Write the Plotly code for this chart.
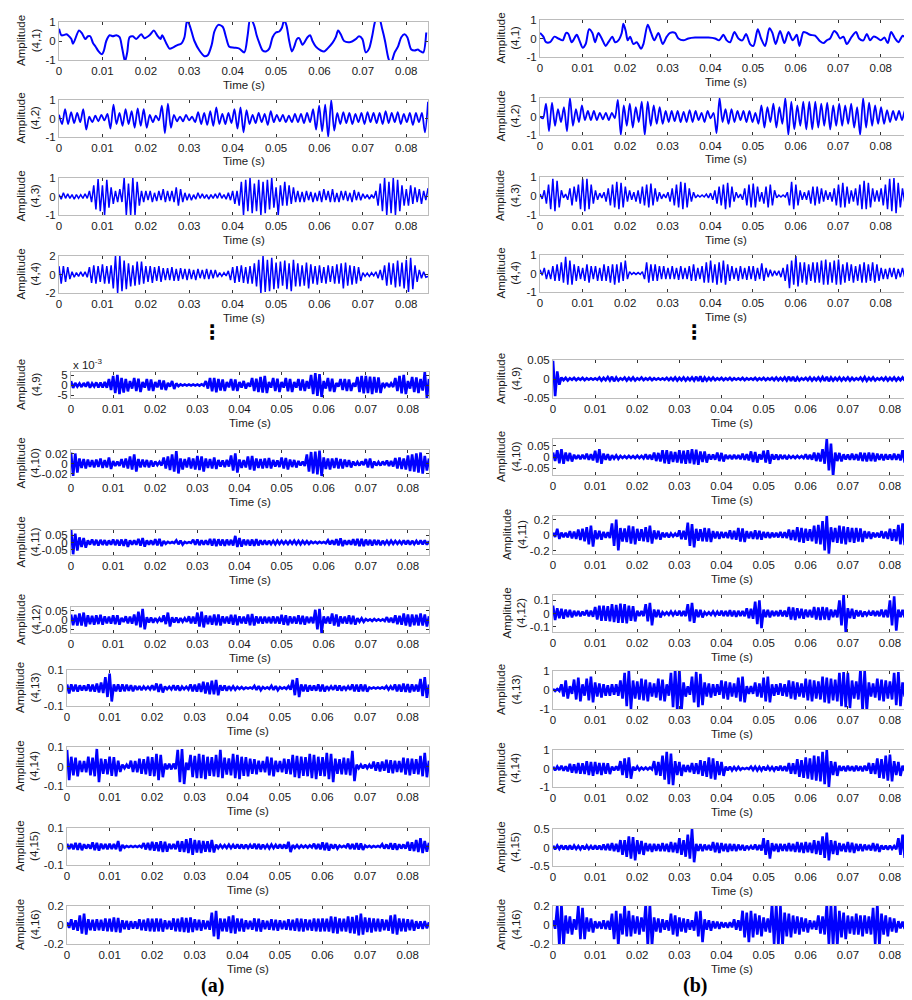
import numpy as np
import plotly.graph_objects as go

########################
### Signal data      ###
########################

# signal lengths (s)
LEN_A = 0.085        # column (a)
LEN_B_TOP = 0.0871   # column (b), nodes (4,1)-(4,4)
LEN_B = 0.085        # column (b), nodes (4,9)-(4,16)

# (a) node (4,1): times in ms and amplitudes
T_A1 = [0, 0.54, 0.92, 1.69, 2.07, 2.84, 3.22, 4.60, 5.29, 6.05,
        6.67, 7.20, 7.82, 8.43, 9.12, 9.89, 10.34, 10.88, 11.65, 12.41,
        13.18, 13.95, 14.48, 15.10, 15.25, 15.71, 16.25, 17.01, 17.78, 18.93,
        19.69, 20.84, 21.84, 22.61, 23.37, 23.75, 24.67, 25.44, 26.21, 27.36,
        28.12, 28.89, 29.43, 29.66, 30.27, 31.19, 32.34, 33.49, 34.25, 35.17,
        35.79, 36.70, 37.70, 38.47, 39.23, 40.38, 41.53, 42.68, 43.45, 44.06,
        44.98, 45.52, 46.13, 46.90, 47.66, 48.43, 49.20, 49.96, 50.73, 51.34,
        51.88, 52.41, 53.03, 53.64, 54.18, 54.79, 55.33, 56.09, 57.24, 57.85,
        58.39, 59.16, 60.31, 61.07, 61.84, 62.99, 63.75, 64.29, 64.90, 65.67,
        67.20, 68.35, 69.12, 69.89, 70.65, 71.42, 72.18, 72.95, 73.72, 74.48,
        75.10, 75.86, 76.40, 77.32, 78.08, 78.85, 79.62, 80.23, 81.15, 81.92,
        82.68, 83.30, 83.91, 84.60]
AMP_A1 = [0.64, 0.3, 0.3, 0.35, 0.3, 0.1, -0.15, 0.55, 0.4, 0.1,
          0.25, 0.25, -0.1, -0.3, -0.55, -0.7, -0.5, 0.0, 0.3, 0.25,
          0.3, 0.2, -0.3, -1.0, -1.05, -0.6, 0.2, 0.25, 0.1, 0.35,
          0.15, 0.3, 0.55, 0.3, 0.1, 0.3, -0.1, -0.4, -0.35, -0.2,
          -0.15, 0.2, 1.0, 1.05, 0.7, 0.0, -0.5, -0.8, -0.75, -0.2,
          0.5, 0.85, 0.75, 0.2, -0.3, -0.35, -0.4, -0.6, 0.3, 1.2,
          0.8, 0.3, -0.1, -0.5, -0.55, -0.4, 0.2, 0.45, 0.5, 0.7,
          1.1, 0.8, 0.0, -0.55, -0.3, 0.1, 0.15, -0.2, 0.2, 0.3,
          0.0, -0.3, -0.5, -0.55, -0.4, -0.1, 0.2, 0.55, 0.35, 0.0,
          -0.05, 0.1, 0.25, 0.1, -0.6, -0.4, 0.3, 1.1, 1.2, 0.6,
          0.0, -0.9, -1.2, -0.6, -0.3, 0.2, 0.35, 0.2, -0.45, -0.5,
          -0.45, -0.55, -0.6, 0.45]

AMP_A2 = [0.2, -0.3, 0.5, -0.3, 0.35, -0.25, 0.3, -0.2, 0.5, -0.6,
          0.1, -0.2, 0.15, -0.15, 0.2, -0.1, 0.25, -0.55, 0.75, -0.3,
          0.3, -0.4, 0.5, -0.3, 0.4, -0.5, 0.55, -0.4, 0.5, -0.5,
          0.2, -0.2, 0.15, -0.1, 0.7, -0.8, 0.8, -0.5, 0.2, -0.15,
          0.1, -0.15, 0.2, -0.1, 0.1, -0.2, 0.35, -0.3, 0.3, -0.35,
          0.4, -0.4, 0.6, -0.3, 0.25, -0.3, 0.3, -0.25, 0.5, -0.55,
          0.6, -0.75, 0.45, -0.3, 0.2, -0.25, 0.3, -0.2, 0.25, -0.35,
          0.4, -0.2, 0.2, -0.15, 0.2, -0.2, 0.15, -0.2, 0.25, -0.2,
          0.25, -0.25, 0.3, -0.2, 0.5, -0.6, 0.7, -0.7, 0.75, -1.0,
          1.0, -0.65, 0.3, -0.3, 0.35, -0.25, 0.3, -0.3, 0.25, -0.2,
          0.3, -0.3, 0.35, -0.2, 0.3, -0.25, 0.3, -0.3, 0.4, -0.25,
          0.3, -0.2, 0.35, -0.3, 0.25, -0.2, 0.3, -0.35, 0.3, -0.2,
          0.3, -0.75, 0.9]

AMP_A3 = [0.1, -0.15, 0.2, -0.1, 0.15, -0.1, 0.1, -0.15, 0.1, -0.1,
          0.1, -0.1, 0.15, -0.1, 0.3, -0.3, 0.6, -0.7, 0.95, -0.8,
          0.6, -1.0, 0.9, -0.6, 0.5, -0.4, 0.3, -0.3, 0.4, -0.3,
          1.0, -1.0, 0.7, -1.0, 1.0, -1.0, 0.8, -0.5, 0.3, -0.3,
          0.3, -0.2, 0.3, -0.3, 0.2, -0.25, 0.3, -0.2, 0.4, -0.3,
          0.3, -0.25, 0.3, -0.3, 0.5, -0.5, 0.4, -0.3, 0.2, -0.2,
          0.15, -0.2, 0.1, -0.15, 0.2, -0.1, 0.15, -0.1, 0.1, -0.15,
          0.1, -0.1, 0.15, -0.1, 0.2, -0.1, 0.1, -0.15, 0.2, -0.2,
          0.3, -0.4, 0.3, -0.5, 0.8, -1.0, 0.9, -0.8, 1.0, -0.9,
          0.7, -0.8, 0.9, -1.0, 0.8, -0.9, 0.9, -0.7, 1.0, -0.6,
          0.5, -1.0, 0.6, -0.5, 0.8, -0.5, 0.6, -0.4, 0.5, -0.3,
          0.3, -0.3, 0.25, -0.3, 0.3, -0.2, 0.25, -0.3, 0.2, -0.25,
          0.3, -0.3, 0.4, -0.2, 0.3, -0.3, 0.4, -0.3, 0.2, -0.3,
          0.3, -0.2, 0.3, -0.25, 0.2, -0.3, 0.35, -0.2, 0.25, -0.2,
          0.15, -0.1, 0.1, -0.15, 0.1, -0.1, 0.3, -0.5, 0.7, -0.8,
          1.0, -1.0, 0.8, -0.9, 1.0, -1.0, 0.9, -0.8, 0.6, -0.5,
          0.4, -0.5, 0.6, -0.4, 0.5, -0.3, 0.4, -0.4, 0.3, -0.2, 0.45]

AMP_A4 = [0.9, -1.0, 0.9, -0.8, 0.8, -0.5, 0.3, -0.3, 0.2, -0.2,
          0.3, -0.2, 0.3, -0.3, 0.8, -0.9, 1.0, -1.0, 0.9, -0.8,
          1.1, -1.0, 0.9, -1.0, 1.0, -1.5, 2.0, -2.0, 2.0, -1.8,
          1.5, -1.6, 1.2, -1.3, 1.0, -1.2, 1.4, -1.1, 1.4, -1.0,
          0.9, -0.8, 0.9, -0.9, 0.8, -0.7, 0.9, -0.8, 0.7, -0.6,
          0.7, -0.6, 0.8, -0.7, 0.6, -0.7, 0.7, -0.5, 0.6, -0.6,
          0.6, -0.5, 0.5, -0.6, 0.6, -0.4, 0.5, -0.5, 0.6, -0.5,
          0.5, -0.4, 0.5, -0.3, 0.2, -0.2, 0.2, -0.15, 0.4, -0.6,
          0.8, -0.9, 0.9, -0.8, 1.0, -0.9, 0.8, -1.0, 0.9, -1.0,
          1.2, -1.3, 1.6, -2.0, 2.0, -1.9, 1.6, -1.8, 1.8, -1.6,
          1.3, -1.5, 1.4, -1.2, 1.5, -1.6, 1.2, -1.8, 1.6, -1.3,
          1.2, -1.3, 1.0, -1.2, 1.3, -1.5, 1.1, -1.0, 0.9, -1.1,
          1.0, -0.9, 0.8, -1.0, 1.0, -0.8, 0.9, -1.0, 1.1, -1.0,
          1.2, -1.5, 1.3, -1.2, 1.0, -1.1, 0.9, -1.0, 0.8, -0.7,
          0.2, -0.2, 0.15, -0.2, 0.2, -0.15, 0.3, -0.4, 0.5, -0.6,
          1.0, -1.2, 1.3, -1.1, 1.2, -1.4, 1.5, -1.3, 1.3, -1.5,
          1.6, -1.9, 1.8, -1.6, 1.0, -0.8, 0.5, -0.4, 0.3, -0.3, -0.2]

# (a) node (4,9) in units of 1e-3
AMP_A9 = [2.0, -1.5, 1.0, -0.8, 0.8, -1.0, 1.0, -0.8, 1.5, -1.4, 0.8, -0.7, 1.3, -1.2, 1.2, -1.3, 1.5, -1.4, 3.0, -2.5,
          4.5, -4.0, 5.0, -4.5, 3.5, -3.8, 3.0, -3.2, 2.0, -1.8, 3.5, -3.0, 3.2, -3.5, 1.5, -1.3, 3.0, -2.8, 2.8, -3.0,
          1.5, -1.2, 2.5, -2.2, 2.2, -2.5, 1.0, -0.8, 2.0, -2.0, 0.8, -0.6, 0.3, -0.3, 0.3, -0.3, 0.3, -0.3, 0.3, -0.3,
          0.3, -0.3, 0.4, -0.3, 2.0, -1.8, 3.5, -3.2, 3.5, -3.6, 3.0, -2.8, 2.8, -3.0, 1.5, -1.2, 3.0, -2.8, 2.8, -3.0,
          1.5, -1.3, 2.0, -1.8, 1.0, -0.8, 3.5, -3.0, 3.2, -3.5, 4.0, -3.8, 4.5, -4.0, 1.5, -1.3, 3.5, -3.0, 3.2, -3.5,
          1.5, -1.3, 3.5, -3.2, 3.0, -3.5, 1.5, -1.3, 3.0, -2.8, 2.8, -3.0, 2.0, -1.8, 5.0, -4.5, 6.0, -5.5, 5.5, -6.0,
          2.0, -1.8, 3.5, -3.2, 3.2, -3.5, 1.0, -0.8, 3.0, -2.5, 3.0, -3.0, 2.8, -3.0, 1.0, -0.8, 4.0, -3.5, 4.5, -4.2,
          4.5, -4.0, 4.2, -4.5, 4.0, -3.8, 3.8, -4.0, 1.0, -0.8, 1.0, -1.0, 0.8, -1.0, 3.5, -3.0, 4.5, -4.2, 5.0, -4.5,
          2.0, -1.8, 4.0, -3.5, 3.8, -4.0, 3.0, -2.8, 6.5, -6.5, 3.0]

AMP_A10 = [0.022, -0.025, 0.02, -0.018, 0.01, -0.009, 0.009, -0.01, 0.008, -0.007, 0.007, -0.008, 0.008, -0.007, 0.01, -0.009, 0.007, -0.008, 0.012, -0.011,
           0.005, -0.005, 0.004, -0.005, 0.009, -0.008, 0.01, -0.01, 0.014, -0.012, 0.018, -0.016, 0.009, -0.008, 0.008, -0.007, 0.007, -0.008, 0.006, -0.006,
           0.004, -0.003, 0.003, -0.004, 0.012, -0.01, 0.014, -0.013, 0.018, -0.016, 0.025, -0.02, 0.01, -0.012, 0.009, -0.008, 0.012, -0.01, 0.01, -0.012,
           0.015, -0.013, 0.014, -0.016, 0.01, -0.009, 0.009, -0.01, 0.012, -0.011, 0.007, -0.006, 0.006, -0.007, 0.007, -0.006, 0.016, -0.014, 0.02, -0.018,
           0.008, -0.009, 0.007, -0.008, 0.014, -0.012, 0.015, -0.014, 0.01, -0.009, 0.009, -0.01, 0.01, -0.009, 0.011, -0.01, 0.007, -0.006, 0.006, -0.007,
           0.012, -0.01, 0.011, -0.012, 0.008, -0.007, 0.007, -0.008, 0.005, -0.004, 0.004, -0.005, 0.018, -0.016, 0.023, -0.02, 0.024, -0.022, 0.026, -0.025,
           0.012, -0.011, 0.01, -0.012, 0.01, -0.009, 0.011, -0.01, 0.009, -0.01, 0.008, -0.007, 0.007, -0.008, 0.004, -0.004, 0.003, -0.004, 0.004, -0.003,
           0.009, -0.008, 0.01, -0.009, 0.004, -0.004, 0.003, -0.004, 0.004, -0.003, 0.006, -0.005, 0.005, -0.006, 0.011, -0.01, 0.012, -0.011, 0.01, -0.012,
           0.016, -0.015, 0.018, -0.016, 0.02, -0.018, 0.022, -0.02, 0.015, -0.014, 0.01]

AMP_A11 = [0.09, -0.08, 0.06, -0.055, 0.035, -0.03, 0.03, -0.035, 0.015, -0.014, 0.02, -0.018, 0.018, -0.02, 0.018, -0.016, 0.016, -0.018, 0.014, -0.015,
           0.02, -0.018, 0.018, -0.02, 0.02, -0.022, 0.022, -0.03, 0.015, -0.014, 0.014, -0.015, 0.025, -0.022, 0.03, -0.028, 0.015, -0.014, 0.014, -0.016,
           0.022, -0.02, 0.025, -0.024, 0.01, -0.009, 0.004, -0.004, 0.003, -0.004, 0.015, -0.012, 0.012, -0.014, 0.004, -0.004, 0.003, -0.003, 0.018, -0.016,
           0.02, -0.018, 0.015, -0.014, 0.014, -0.015, 0.024, -0.022, 0.025, -0.024, 0.022, -0.02, 0.02, -0.022, 0.02, -0.018, 0.018, -0.02, 0.045, -0.03,
           0.03, -0.028, 0.02, -0.018, 0.018, -0.02, 0.02, -0.022, 0.022, -0.02, 0.015, -0.014, 0.014, -0.015, 0.012, -0.011, 0.011, -0.012, 0.012, -0.01,
           0.01, -0.009, 0.009, -0.01, 0.01, -0.009, 0.012, -0.011, 0.011, -0.012, 0.01, -0.009, 0.009, -0.01, 0.006, -0.005, 0.005, -0.006, 0.005, -0.004,
           0.004, -0.005, 0.015, -0.013, 0.014, -0.015, 0.022, -0.02, 0.028, -0.025, 0.015, -0.014, 0.014, -0.015, 0.022, -0.02, 0.025, -0.024, 0.024, -0.025,
           0.02, -0.018, 0.018, -0.02, 0.018, -0.016, 0.016, -0.018, 0.012, -0.011, 0.011, -0.012, 0.012, -0.01, 0.01, -0.009, 0.009, -0.01, 0.015, -0.013,
           0.014, -0.015, 0.012, -0.011, 0.011, -0.012, 0.015, -0.013, 0.014, -0.015, 0.01]

AMP_A12 = [0.03, -0.028, 0.028, -0.03, 0.035, -0.03, 0.04, -0.035, 0.025, -0.022, 0.022, -0.025, 0.025, -0.022, 0.028, -0.025, 0.02, -0.018, 0.018, -0.02,
           0.025, -0.022, 0.025, -0.025, 0.012, -0.011, 0.02, -0.018, 0.018, -0.02, 0.03, -0.028, 0.045, -0.04, 0.06, -0.05, 0.015, -0.014, 0.014, -0.015,
           0.01, -0.009, 0.009, -0.01, 0.025, -0.022, 0.04, -0.035, 0.015, -0.014, 0.014, -0.015, 0.01, -0.009, 0.009, -0.01, 0.02, -0.018, 0.018, -0.02,
           0.04, -0.035, 0.045, -0.04, 0.025, -0.022, 0.022, -0.025, 0.03, -0.028, 0.03, -0.03, 0.02, -0.018, 0.018, -0.02, 0.028, -0.025, 0.028, -0.028,
           0.02, -0.018, 0.018, -0.02, 0.03, -0.028, 0.032, -0.03, 0.02, -0.018, 0.018, -0.02, 0.018, -0.016, 0.016, -0.018, 0.02, -0.018, 0.018, -0.02,
           0.028, -0.025, 0.025, -0.028, 0.02, -0.018, 0.018, -0.02, 0.025, -0.022, 0.022, -0.025, 0.018, -0.016, 0.016, -0.018, 0.055, -0.05, 0.06, -0.07,
           0.02, -0.018, 0.018, -0.02, 0.035, -0.03, 0.03, -0.035, 0.02, -0.018, 0.018, -0.02, 0.025, -0.022, 0.022, -0.025, 0.01, -0.009, 0.009, -0.01,
           0.005, -0.004, 0.004, -0.005, 0.005, -0.004, 0.004, -0.004, 0.004, -0.005, 0.015, -0.012, 0.012, -0.015, 0.025, -0.022, 0.022, -0.025, 0.035, -0.03,
           0.03, -0.035, 0.03, -0.028, 0.028, -0.03, 0.035, -0.03, 0.03, -0.035, 0.02]

AMP_A13 = [0.02, -0.03, 0.02, -0.018, 0.018, -0.02, 0.015, -0.014, 0.014, -0.015, 0.02, -0.018, 0.018, -0.02, 0.025, -0.025, 0.03, -0.028, 0.06, -0.05,
           0.08, -0.075, 0.02, -0.018, 0.02, -0.02, 0.02, -0.018, 0.018, -0.016, 0.016, -0.018, 0.012, -0.011, 0.011, -0.012, 0.008, -0.007, 0.007, -0.008,
           0.015, -0.012, 0.025, -0.022, 0.022, -0.025, 0.008, -0.007, 0.007, -0.008, 0.015, -0.013, 0.014, -0.015, 0.008, -0.007, 0.007, -0.008, 0.02, -0.018,
           0.018, -0.02, 0.025, -0.022, 0.035, -0.03, 0.03, -0.035, 0.04, -0.035, 0.045, -0.04, 0.015, -0.014, 0.014, -0.015, 0.01, -0.009, 0.009, -0.01,
           0.006, -0.005, 0.005, -0.006, 0.003, -0.003, 0.003, -0.003, 0.012, -0.011, 0.011, -0.012, 0.005, -0.004, 0.004, -0.005, 0.012, -0.011, 0.011, -0.012,
           0.005, -0.004, 0.004, -0.005, 0.01, -0.009, 0.045, -0.04, 0.055, -0.05, 0.02, -0.018, 0.018, -0.02, 0.015, -0.014, 0.014, -0.015, 0.02, -0.018,
           0.018, -0.02, 0.01, -0.009, 0.009, -0.01, 0.015, -0.014, 0.014, -0.015, 0.01, -0.009, 0.009, -0.01, 0.02, -0.018, 0.018, -0.02, 0.02, -0.018,
           0.018, -0.02, 0.003, -0.003, 0.003, -0.003, 0.003, -0.003, 0.004, -0.003, 0.01, -0.009, 0.009, -0.01, 0.02, -0.018, 0.018, -0.02, 0.025, -0.022,
           0.022, -0.025, 0.02, -0.018, 0.018, -0.02, 0.05, -0.045, 0.06, -0.055, 0.02]

AMP_A14 = [0.085, -0.07, 0.05, -0.045, 0.045, -0.05, 0.03, -0.028, 0.028, -0.03, 0.05, -0.045, 0.045, -0.05, 0.09, -0.08, 0.04, -0.038, 0.038, -0.04,
           0.05, -0.048, 0.048, -0.05, 0.03, -0.028, 0.01, -0.009, 0.009, -0.01, 0.03, -0.028, 0.028, -0.03, 0.04, -0.038, 0.038, -0.04, 0.05, -0.048,
           0.048, -0.05, 0.065, -0.07, 0.06, -0.055, 0.015, -0.014, 0.014, -0.015, 0.015, -0.014, 0.085, -0.08, 0.09, -0.09, 0.02, -0.018, 0.06, -0.055,
           0.055, -0.06, 0.065, -0.06, 0.06, -0.065, 0.05, -0.048, 0.048, -0.05, 0.06, -0.055, 0.085, -0.06, 0.045, -0.042, 0.042, -0.045, 0.065, -0.06,
           0.06, -0.065, 0.05, -0.048, 0.048, -0.05, 0.04, -0.038, 0.038, -0.04, 0.03, -0.028, 0.028, -0.03, 0.05, -0.045, 0.045, -0.05, 0.03, -0.028,
           0.028, -0.03, 0.04, -0.038, 0.038, -0.04, 0.06, -0.055, 0.055, -0.06, 0.05, -0.048, 0.048, -0.05, 0.065, -0.06, 0.06, -0.065, 0.05, -0.048,
           0.048, -0.05, 0.07, -0.065, 0.065, -0.08, 0.04, -0.038, 0.038, -0.04, 0.045, -0.042, 0.042, -0.045, 0.08, -0.075, 0.01, -0.009, 0.009, -0.01,
           0.01, -0.009, 0.009, -0.01, 0.025, -0.022, 0.022, -0.025, 0.025, -0.022, 0.035, -0.032, 0.032, -0.035, 0.03, -0.028, 0.028, -0.03, 0.045, -0.042,
           0.042, -0.045, 0.04, -0.038, 0.038, -0.04, 0.055, -0.05, 0.07, -0.055, 0.03]

AMP_A15 = [0.015, -0.014, 0.014, -0.015, 0.02, -0.018, 0.018, -0.02, 0.012, -0.011, 0.011, -0.012, 0.022, -0.02, 0.02, -0.022, 0.015, -0.014, 0.014, -0.015,
           0.015, -0.014, 0.014, -0.015, 0.03, -0.025, 0.008, -0.006, 0.003, -0.003, 0.003, -0.003, 0.003, -0.003, 0.004, -0.004, 0.018, -0.016, 0.02, -0.02,
           0.025, -0.022, 0.022, -0.025, 0.028, -0.03, 0.025, -0.028, 0.015, -0.014, 0.014, -0.015, 0.03, -0.028, 0.028, -0.03, 0.04, -0.035, 0.045, -0.045,
           0.035, -0.032, 0.032, -0.035, 0.03, -0.028, 0.028, -0.03, 0.035, -0.032, 0.01, -0.009, 0.008, -0.007, 0.007, -0.008, 0.01, -0.009, 0.009, -0.01,
           0.012, -0.011, 0.011, -0.012, 0.01, -0.009, 0.009, -0.01, 0.015, -0.014, 0.014, -0.015, 0.01, -0.009, 0.009, -0.01, 0.01, -0.009, 0.009, -0.01,
           0.012, -0.011, 0.011, -0.012, 0.025, -0.03, 0.008, -0.007, 0.007, -0.008, 0.006, -0.005, 0.005, -0.006, 0.006, -0.005, 0.015, -0.013, 0.013, -0.015,
           0.022, -0.02, 0.02, -0.022, 0.012, -0.011, 0.011, -0.012, 0.005, -0.004, 0.004, -0.005, 0.015, -0.013, 0.013, -0.015, 0.018, -0.016, 0.016, -0.018,
           0.005, -0.004, 0.004, -0.005, 0.003, -0.003, 0.003, -0.003, 0.012, -0.011, 0.011, -0.012, 0.018, -0.016, 0.016, -0.018, 0.012, -0.011, 0.011, -0.012,
           0.025, -0.022, 0.022, -0.025, 0.035, -0.03, 0.045, -0.035, 0.03, -0.028, 0.02]

AMP_A16 = [0.03, -0.03, 0.06, -0.05, 0.05, -0.06, 0.1, -0.09, 0.12, -0.1, 0.06, -0.055, 0.055, -0.06, 0.06, -0.055, 0.055, -0.06, 0.07, -0.065,
           0.065, -0.07, 0.08, -0.075, 0.075, -0.08, 0.05, -0.045, 0.045, -0.05, 0.04, -0.038, 0.038, -0.04, 0.06, -0.055, 0.055, -0.06, 0.07, -0.065,
           0.065, -0.07, 0.07, -0.065, 0.065, -0.07, 0.05, -0.045, 0.045, -0.05, 0.07, -0.065, 0.065, -0.07, 0.08, -0.075, 0.075, -0.08, 0.08, -0.075,
           0.06, -0.055, 0.055, -0.06, 0.05, -0.045, 0.045, -0.05, 0.13, -0.12, 0.15, -0.15, 0.07, -0.065, 0.065, -0.07, 0.09, -0.085, 0.1, -0.09,
           0.07, -0.065, 0.065, -0.07, 0.05, -0.045, 0.045, -0.05, 0.07, -0.065, 0.065, -0.07, 0.05, -0.045, 0.045, -0.05, 0.06, -0.055, 0.055, -0.06,
           0.05, -0.045, 0.045, -0.05, 0.06, -0.055, 0.055, -0.06, 0.07, -0.065, 0.065, -0.07, 0.06, -0.055, 0.055, -0.06, 0.07, -0.065, 0.065, -0.07,
           0.07, -0.065, 0.065, -0.07, 0.09, -0.085, 0.085, -0.09, 0.07, -0.065, 0.065, -0.07, 0.09, -0.085, 0.085, -0.09, 0.1, -0.11, 0.12, -0.1,
           0.08, -0.075, 0.075, -0.08, 0.07, -0.065, 0.065, -0.07, 0.06, -0.055, 0.055, -0.06, 0.1, -0.09, 0.11, -0.1, 0.07, -0.065, 0.065, -0.07,
           0.06, -0.055, 0.055, -0.06, 0.04, -0.038, 0.038, -0.04, 0.04, -0.035, 0.03]

# (b) node (4,1): times in ms and amplitudes
T_B1 = [0, 0.78, 1.41, 2.35, 3.37, 4.31, 5.32, 6.11, 6.65, 7.44,
        8.61, 9.24, 10.02, 10.72, 11.51, 12.29, 12.92, 13.70, 14.48, 15.42,
        16.05, 16.99, 17.61, 18.40, 19.18, 19.57, 20.12, 20.59, 21.14, 21.92,
        22.70, 23.72, 24.27, 25.28, 26.07, 26.85, 27.79, 28.81, 29.75, 30.53,
        31.70, 32.49, 33.66, 34.83, 36.40, 37.96, 39.53, 41.10, 42.04, 43.05,
        43.84, 44.62, 45.64, 46.58, 47.51, 48.38, 49.32, 50.10, 51.12, 51.90,
        52.84, 53.86, 54.56, 55.34, 56.36, 57.38, 58.32, 59.33, 60.27, 60.90,
        61.84, 62.62, 63.41, 64.58, 65.75, 66.54, 67.32, 68.10, 69.04, 69.67,
        70.45, 71.23, 72.02, 73.19, 74.21, 74.91, 75.93, 76.71, 77.50, 78.28,
        79.06, 80.00, 80.86, 81.64, 82.43, 83.37, 84.15, 85.17, 86.11, 87.12]
AMP_B1 = [0.3, 0.1, -0.2, -0.2, 0.1, 0.0, -0.1, 0.3, 0.25, -0.2,
          0.2, -0.1, -0.5, -0.3, 0.5, 0.3, -0.2, 0.3, 0.0, -0.4,
          -0.2, 0.1, -0.2, -0.1, 0.3, 0.8, 0.4, -0.1, 0.1, -0.3,
          -0.2, -0.55, -0.3, 0.75, 0.3, -0.1, 0.3, -0.3, 0.1, 0.3,
          0.3, 0.0, -0.1, 0.0, 0.05, 0.05, 0.05, 0.0, -0.1, 0.2,
          -0.1, -0.2, 0.35, 0.0, -0.1, 0.25, -0.3, -0.4, 0.5, 0.0,
          -0.4, 0.55, 0.3, -0.3, 0.4, -0.25, 0.35, -0.1, 0.2, -0.4,
          0.35, 0.3, 0.2, 0.15, -0.15, -0.25, -0.1, 0.0, 0.4, 0.3,
          0.0, 0.1, -0.3, 0.1, 0.35, 0.0, -0.1, 0.25, -0.1, 0.1,
          0.05, -0.1, 0.05, -0.25, 0.35, 0.0, -0.2, 0.15, -0.05, -0.25]

AMP_B2 = [0.0, -0.1, 0.7, -0.8, 0.75, -0.5, 0.4, -0.3, 0.5, -0.8,
          1.0, -0.5, 0.4, -0.3, 0.6, -0.2, 0.3, -0.2, 0.3, -0.2,
          0.2, -0.15, 0.2, -0.2, 0.2, -0.1, 0.9, -1.0, 0.6, -0.5,
          0.7, -0.6, 0.5, -0.3, 0.8, -1.0, 0.8, -0.5, 0.6, -0.4,
          0.5, -0.4, 0.3, -0.3, 0.3, -0.25, 0.3, -0.3, 0.25, -0.3,
          0.35, -0.3, 0.3, -0.2, 0.2, -0.3, 0.3, -0.1, 0.2, -0.9,
          1.0, -0.3, 0.4, -0.4, 0.4, -0.3, 0.3, -0.2, 0.3, -0.3,
          0.3, -0.3, 0.2, -0.4, 0.6, -0.6, 0.5, -0.3, 0.7, -0.6,
          0.5, -0.4, 1.0, -1.0, 0.8, -0.7, 0.6, -0.5, 0.8, -0.7,
          0.8, -0.7, 0.8, -0.6, 0.7, -0.5, 0.75, -0.7, 0.6, -0.5,
          0.7, -0.5, 0.6, -0.4, 0.7, -0.6, 0.5, -1.0, 1.0, -0.6,
          0.75, -0.5, 0.6, -0.4, 0.5, -0.4, 0.35, -0.3, 0.3, -0.2,
          0.3, -0.2, 0.35, -0.15, -0.1]

AMP_B3 = [0.1, -0.15, 0.3, -0.4, 0.6, -0.7, 0.9, -0.8, 0.8, -0.6,
          0.3, -0.1, 0.1, -0.2, 0.4, -0.5, 0.5, -0.3, 0.6, -0.7,
          0.9, -0.8, 0.9, -0.7, 0.6, -0.4, 0.3, -0.2, 0.15, -0.1,
          0.2, -0.3, 0.4, -0.5, 0.6, -0.6, 0.75, -0.7, 0.7, -0.6,
          0.5, -0.3, 0.3, -0.2, 0.2, -0.3, 0.3, -0.4, 0.5, -0.5,
          0.6, -0.6, 0.65, -0.5, 0.4, -0.3, 0.2, -0.15, 0.1, -0.1,
          0.2, -0.3, 0.4, -0.5, 0.6, -0.6, 0.75, -0.7, 0.7, -0.6,
          0.4, -0.3, 0.2, -0.1, 0.05, -0.05, 0.05, -0.05, 0.1, -0.1,
          0.15, -0.2, 0.3, -0.4, 0.5, -0.5, 0.6, -0.7, 0.7, -0.6,
          0.5, -0.3, 0.2, -0.1, 0.1, -0.2, 0.4, -0.5, 0.6, -0.6,
          0.65, -0.6, 0.5, -0.3, 0.2, -0.4, 0.5, -0.6, 0.6, -0.5,
          0.3, -0.1, 0.05, -0.05, 0.05, -0.05, 0.2, -0.5, 0.75, -0.7,
          0.6, -0.5, 0.3, -0.2, 0.2, -0.2, 0.3, -0.4, 0.5, -0.5,
          0.5, -0.4, 0.4, -0.3, 0.3, -0.2, 0.2, -0.3, 0.4, -0.5,
          0.6, -0.6, 0.7, -0.6, 0.5, -0.4, 0.3, -0.3, 0.4, -0.5,
          0.6, -0.7, 0.8, -0.7, 0.7, -0.6, 0.4, -0.3, 0.3, -0.3,
          0.4, -0.5, 0.6, -0.7, 0.9, -0.8, 0.95, -0.9, 0.7, -0.6,
          0.4, -0.3, 0.2, -0.2, 0.1]

AMP_B4 = [0.2, -0.1, 0.3, -0.3, 0.2, -0.3, 0.4, -0.4, 0.5, -0.4,
          0.6, -0.5, 0.9, -0.6, 0.7, -0.6, 0.5, -0.4, 0.4, -0.3,
          0.3, -0.4, 0.5, -0.5, 0.4, -0.3, 0.4, -0.4, 0.3, -0.4,
          0.5, -0.4, 0.4, -0.5, 0.5, -0.6, 0.5, -0.5, 0.6, -0.4,
          0.7, -0.3, 0.1, -0.05, 0.05, -0.05, 0.05, -0.05, 0.1, -0.3,
          0.6, -0.5, 0.5, -0.4, 0.5, -0.4, 0.4, -0.3, 0.4, -0.3,
          0.3, -0.3, 0.4, -0.3, 0.3, -0.35, 0.4, -0.3, 0.3, -0.3,
          0.4, -0.4, 0.5, -0.4, 0.3, -0.3, 0.4, -0.5, 0.6, -0.5,
          0.7, -0.5, 0.5, -0.6, 0.6, -0.5, 0.7, -0.6, 0.5, -0.4,
          0.4, -0.3, 0.3, -0.4, 0.4, -0.3, 0.3, -0.35, 0.4, -0.3,
          0.4, -0.4, 0.3, -0.3, 0.55, -0.4, 0.3, -0.2, 0.2, -0.15,
          0.15, -0.1, 0.15, -0.2, 0.3, -0.4, 0.5, -0.8, 0.7, -0.6,
          0.95, -0.7, 0.6, -0.5, 0.6, -0.6, 0.5, -0.4, 0.6, -0.5,
          0.6, -0.5, 0.7, -0.6, 0.75, -0.6, 0.6, -0.5, 0.7, -0.6,
          0.75, -0.6, 0.5, -0.5, 0.6, -0.4, 0.5, -0.5, 0.4, -0.4,
          0.5, -0.5, 0.6, -0.5, 0.5, -0.4, 0.6, -0.5, 0.5, -0.4,
          0.3, -0.3, 0.25, -0.3, 0.3, -0.2, 0.3, -0.3, 0.25, -0.2,
          0.3, -0.2, 0.3, -0.3, -0.1]

AMP_B9 = [0.048, -0.045, 0.02, -0.015, 0.004, -0.003, 0.003, -0.004, 0.002, -0.002, 0.003, -0.003, 0.002, -0.002, 0.003, -0.003, 0.002, -0.002, 0.002, -0.002,
          0.002, -0.002, 0.004, -0.004, 0.003, -0.003, 0.005, -0.004, 0.006, -0.006, 0.004, -0.004, 0.002, -0.002, 0.004, -0.004, 0.003, -0.003, 0.004, -0.004,
          0.002, -0.002, 0.004, -0.003, 0.002, -0.002, 0.003, -0.003, 0.002, -0.002, 0.002, -0.002, 0.002, -0.002, 0.003, -0.003, 0.003, -0.003, 0.004, -0.004,
          0.003, -0.003, 0.004, -0.004, 0.003, -0.003, 0.004, -0.004, 0.006, -0.005, 0.007, -0.007, 0.004, -0.004, 0.003, -0.003, 0.004, -0.003, 0.002, -0.002,
          0.003, -0.003, 0.002, -0.002, 0.003, -0.003, 0.002, -0.002, 0.002, -0.002, 0.003, -0.003, 0.002, -0.002, 0.002, -0.002, 0.003, -0.003, 0.002, -0.002,
          0.003, -0.003, 0.002, -0.002, 0.003, -0.003, 0.004, -0.003, 0.003, -0.003, 0.004, -0.004, 0.006, -0.005, 0.006, -0.006, 0.004, -0.004, 0.002, -0.002,
          0.003, -0.003, 0.004, -0.004, 0.003, -0.003, 0.004, -0.004, 0.005, -0.005, 0.006, -0.006, 0.004, -0.004, 0.003, -0.003, 0.004, -0.004, 0.003, -0.003,
          0.004, -0.004, 0.003, -0.003, 0.002, -0.002, 0.004, -0.004, 0.005, -0.005, 0.003, -0.003, 0.004, -0.004, 0.002, -0.002, 0.003, -0.003, 0.004, -0.004,
          0.003, -0.003, 0.004, -0.004, 0.003, -0.003, 0.004, -0.004, 0.025, -0.03, 0.0]

AMP_B10 = [0.02, -0.018, 0.03, -0.028, 0.035, -0.03, 0.02, -0.018, 0.018, -0.02, 0.01, -0.009, 0.009, -0.01, 0.01, -0.009, 0.015, -0.013, 0.013, -0.015,
           0.028, -0.025, 0.035, -0.03, 0.015, -0.013, 0.013, -0.015, 0.008, -0.007, 0.007, -0.008, 0.005, -0.004, 0.004, -0.005, 0.005, -0.004, 0.004, -0.005,
           0.006, -0.005, 0.005, -0.006, 0.012, -0.01, 0.01, -0.012, 0.02, -0.018, 0.018, -0.02, 0.03, -0.028, 0.03, -0.03, 0.025, -0.022, 0.022, -0.025,
           0.03, -0.028, 0.028, -0.03, 0.03, -0.028, 0.035, -0.032, 0.032, -0.035, 0.025, -0.022, 0.025, -0.025, 0.012, -0.011, 0.011, -0.012, 0.02, -0.018,
           0.018, -0.02, 0.01, -0.009, 0.009, -0.01, 0.01, -0.009, 0.009, -0.01, 0.015, -0.013, 0.013, -0.015, 0.025, -0.022, 0.022, -0.025, 0.012, -0.011,
           0.028, -0.025, 0.03, -0.03, 0.012, -0.011, 0.011, -0.012, 0.01, -0.009, 0.009, -0.01, 0.005, -0.004, 0.004, -0.005, 0.005, -0.004, 0.004, -0.005,
           0.012, -0.01, 0.01, -0.012, 0.02, -0.018, 0.018, -0.02, 0.035, -0.03, 0.08, -0.06, 0.06, -0.085, 0.02, -0.018, 0.018, -0.02, 0.012, -0.011,
           0.011, -0.012, 0.015, -0.013, 0.013, -0.015, 0.02, -0.018, 0.018, -0.02, 0.02, -0.018, 0.018, -0.02, 0.015, -0.013, 0.013, -0.015, 0.012, -0.011,
           0.011, -0.012, 0.015, -0.013, 0.013, -0.015, 0.03, -0.025, 0.07, -0.07, 0.02]

AMP_B11 = [0.03, -0.025, 0.08, -0.05, 0.03, -0.028, 0.028, -0.03, 0.05, -0.045, 0.045, -0.05, 0.07, -0.065, 0.08, -0.08, 0.1, -0.12, 0.12, -0.15,
           0.06, -0.055, 0.055, -0.06, 0.04, -0.035, 0.035, -0.04, 0.15, -0.14, 0.2, -0.2, 0.09, -0.085, 0.085, -0.09, 0.12, -0.11, 0.11, -0.12,
           0.08, -0.075, 0.075, -0.08, 0.1, -0.09, 0.12, -0.11, 0.06, -0.055, 0.055, -0.06, 0.03, -0.028, 0.028, -0.03, 0.02, -0.018, 0.018, -0.02,
           0.06, -0.055, 0.055, -0.06, 0.16, -0.14, 0.14, -0.16, 0.08, -0.075, 0.075, -0.08, 0.09, -0.085, 0.085, -0.09, 0.05, -0.045, 0.045, -0.05,
           0.04, -0.035, 0.035, -0.04, 0.06, -0.055, 0.055, -0.06, 0.09, -0.085, 0.085, -0.09, 0.05, -0.045, 0.045, -0.05, 0.06, -0.055, 0.055, -0.06,
           0.04, -0.035, 0.035, -0.04, 0.03, -0.028, 0.028, -0.03, 0.04, -0.035, 0.035, -0.04, 0.07, -0.065, 0.065, -0.07, 0.1, -0.09, 0.09, -0.1,
           0.08, -0.075, 0.075, -0.08, 0.12, -0.11, 0.13, -0.12, 0.18, -0.2, 0.25, -0.24, 0.1, -0.09, 0.09, -0.1, 0.12, -0.11, 0.11, -0.12,
           0.1, -0.09, 0.09, -0.1, 0.09, -0.085, 0.085, -0.09, 0.05, -0.045, 0.045, -0.05, 0.03, -0.028, 0.028, -0.03, 0.05, -0.045, 0.045, -0.05,
           0.08, -0.075, 0.075, -0.08, 0.13, -0.12, 0.15, -0.13, 0.09, -0.085, 0.05]

AMP_B12 = [0.06, -0.05, 0.04, -0.035, 0.035, -0.04, 0.03, -0.028, 0.028, -0.03, 0.02, -0.018, 0.018, -0.02, 0.015, -0.014, 0.025, -0.022, 0.022, -0.025,
           0.05, -0.045, 0.06, -0.055, 0.06, -0.055, 0.055, -0.06, 0.07, -0.065, 0.065, -0.07, 0.075, -0.07, 0.07, -0.075, 0.06, -0.055, 0.055, -0.06,
           0.02, -0.018, 0.018, -0.02, 0.07, -0.06, 0.08, -0.09, 0.03, -0.028, 0.028, -0.03, 0.01, -0.009, 0.009, -0.01, 0.015, -0.013, 0.013, -0.015,
           0.02, -0.018, 0.018, -0.02, 0.07, -0.06, 0.08, -0.07, 0.03, -0.028, 0.028, -0.03, 0.01, -0.009, 0.009, -0.01, 0.015, -0.013, 0.013, -0.015,
           0.02, -0.018, 0.018, -0.02, 0.025, -0.022, 0.022, -0.025, 0.02, -0.018, 0.018, -0.02, 0.04, -0.035, 0.035, -0.04, 0.09, -0.08, 0.1, -0.11,
           0.03, -0.028, 0.028, -0.03, 0.02, -0.018, 0.018, -0.02, 0.025, -0.022, 0.022, -0.025, 0.05, -0.045, 0.045, -0.05, 0.04, -0.035, 0.035, -0.04,
           0.03, -0.028, 0.028, -0.03, 0.05, -0.045, 0.045, -0.05, 0.05, -0.045, 0.045, -0.05, 0.03, -0.028, 0.028, -0.03, 0.1, -0.09, 0.14, -0.14,
           0.04, -0.035, 0.035, -0.04, 0.025, -0.022, 0.022, -0.025, 0.015, -0.013, 0.013, -0.015, 0.02, -0.018, 0.018, -0.02, 0.03, -0.028, 0.028, -0.03,
           0.1, -0.09, 0.13, -0.13, 0.03, -0.028, 0.028, -0.03, 0.04, -0.035, 0.03]

AMP_B13 = [0.05, -0.05, 0.05, -0.05, 0.3, -0.35, 0.5, -0.45, 0.2, -0.2, 0.55, -0.5, 0.65, -0.6, 0.3, -0.3, 0.6, -0.55, 0.7, -0.65,
           0.4, -0.35, 0.35, -0.4, 0.3, -0.3, 0.25, -0.3, 0.3, -0.25, 0.3, -0.3, 0.5, -0.45, 0.9, -0.85, 1.0, -1.0, 0.5, -0.45,
           0.45, -0.5, 0.6, -0.55, 0.55, -0.6, 0.4, -0.35, 0.35, -0.4, 0.6, -0.55, 0.55, -0.6, 0.3, -0.3, 0.9, -0.9, 1.1, -1.1,
           1.1, -1.1, 0.4, -0.35, 0.2, -0.25, 0.7, -0.65, 0.95, -0.9, 0.85, -0.8, 0.4, -0.35, 0.35, -0.4, 0.3, -0.3, 0.3, -0.25,
           0.5, -0.45, 0.45, -0.5, 0.4, -0.35, 0.35, -0.4, 0.65, -0.6, 0.7, -0.65, 0.2, -0.2, 0.2, -0.2, 0.4, -0.35, 0.35, -0.4,
           0.65, -0.6, 0.7, -0.65, 0.3, -0.3, 0.3, -0.25, 0.35, -0.3, 0.3, -0.35, 0.5, -0.45, 0.45, -0.5, 0.4, -0.35, 0.35, -0.4,
           0.6, -0.55, 0.55, -0.6, 0.5, -0.45, 0.45, -0.5, 0.7, -0.65, 0.65, -0.7, 0.6, -0.55, 0.55, -0.6, 0.9, -0.85, 0.95, -0.9,
           0.9, -0.95, 0.5, -0.45, 0.45, -0.5, 1.1, -1.1, 1.0, -1.1, 0.4, -0.35, 0.35, -0.4, 0.6, -0.55, 0.55, -0.6, 0.5, -0.45,
           0.45, -0.5, 0.9, -0.8, 0.95, -0.85, 0.4, -0.35, 0.3, -0.3, 0.1]

AMP_B14 = [0.1, -0.1, 0.1, -0.08, 0.15, -0.12, 0.12, -0.15, 0.25, -0.22, 0.22, -0.25, 0.3, -0.28, 0.28, -0.3, 0.4, -0.35, 0.35, -0.4,
           0.35, -0.3, 0.3, -0.35, 0.3, -0.28, 0.28, -0.3, 0.1, -0.1, 0.12, -0.1, 0.4, -0.35, 0.55, -0.5, 0.6, -0.55, 0.1, -0.1,
           0.1, -0.08, 0.05, -0.05, 0.05, -0.05, 0.05, -0.05, 0.4, -0.35, 0.35, -0.4, 0.7, -0.6, 0.9, -0.85, 0.8, -0.9, 0.4, -0.35,
           0.35, -0.4, 0.2, -0.18, 0.18, -0.2, 0.3, -0.28, 0.28, -0.3, 0.45, -0.4, 0.4, -0.45, 0.6, -0.55, 0.55, -0.6, 0.4, -0.35,
           0.35, -0.4, 0.1, -0.1, 0.1, -0.1, 0.08, -0.08, 0.08, -0.07, 0.03, -0.03, 0.03, -0.03, 0.1, -0.08, 0.1, -0.1, 0.08, -0.1,
           0.1, -0.1, 0.1, -0.08, 0.08, -0.1, 0.1, -0.1, 0.15, -0.12, 0.12, -0.15, 0.3, -0.28, 0.28, -0.3, 0.5, -0.45, 0.45, -0.5,
           0.6, -0.55, 0.55, -0.6, 0.7, -0.65, 0.65, -0.7, 0.9, -0.85, 1.0, -1.0, 0.4, -0.35, 0.35, -0.4, 0.15, -0.12, 0.12, -0.15,
           0.15, -0.12, 0.12, -0.15, 0.15, -0.12, 0.12, -0.15, 0.15, -0.12, 0.3, -0.28, 0.28, -0.3, 0.55, -0.5, 0.5, -0.55, 0.7, -0.65,
           0.75, -0.7, 0.4, -0.35, 0.35, -0.4, 0.15, -0.12, 0.12, -0.15, 0.05]

AMP_B15 = [0.05, -0.05, 0.05, -0.04, 0.06, -0.05, 0.05, -0.06, 0.06, -0.05, 0.05, -0.04, 0.04, -0.05, 0.05, -0.05, 0.05, -0.04, 0.04, -0.05,
           0.06, -0.05, 0.05, -0.06, 0.08, -0.07, 0.1, -0.08, 0.12, -0.1, 0.1, -0.12, 0.2, -0.2, 0.2, -0.25, 0.3, -0.3, 0.28, -0.35,
           0.2, -0.18, 0.18, -0.2, 0.12, -0.1, 0.1, -0.12, 0.1, -0.09, 0.09, -0.1, 0.12, -0.1, 0.1, -0.12, 0.15, -0.13, 0.13, -0.15,
           0.25, -0.2, 0.2, -0.25, 0.35, -0.3, 0.5, -0.4, 0.1, -0.09, 0.09, -0.1, 0.08, -0.07, 0.07, -0.08, 0.15, -0.13, 0.13, -0.15,
           0.12, -0.1, 0.1, -0.12, 0.1, -0.09, 0.09, -0.1, 0.08, -0.07, 0.07, -0.08, 0.05, -0.04, 0.04, -0.05, 0.08, -0.07, 0.07, -0.08,
           0.25, -0.2, 0.2, -0.3, 0.12, -0.1, 0.1, -0.12, 0.1, -0.09, 0.09, -0.1, 0.12, -0.1, 0.1, -0.12, 0.15, -0.13, 0.13, -0.15,
           0.15, -0.13, 0.13, -0.15, 0.2, -0.18, 0.18, -0.2, 0.3, -0.28, 0.4, -0.35, 0.2, -0.18, 0.18, -0.2, 0.12, -0.1, 0.1, -0.12,
           0.15, -0.13, 0.13, -0.15, 0.1, -0.09, 0.09, -0.1, 0.08, -0.07, 0.07, -0.08, 0.12, -0.1, 0.1, -0.12, 0.06, -0.05, 0.05, -0.06,
           0.05, -0.04, 0.04, -0.05, 0.25, -0.2, 0.35, -0.28, 0.2, -0.18, 0.1]

AMP_B16 = [0.05, -0.04, 0.2, -0.22, 0.22, -0.22, 0.1, -0.09, 0.09, -0.1, 0.06, -0.05, 0.2, -0.15, 0.18, -0.15, 0.08, -0.07, 0.07, -0.08,
           0.04, -0.035, 0.035, -0.04, 0.05, -0.045, 0.045, -0.05, 0.12, -0.15, 0.15, -0.22, 0.12, -0.1, 0.2, -0.12, 0.15, -0.12, 0.1, -0.09,
           0.09, -0.1, 0.08, -0.07, 0.22, -0.22, 0.22, -0.22, 0.08, -0.07, 0.07, -0.08, 0.06, -0.05, 0.05, -0.06, 0.12, -0.1, 0.1, -0.12,
           0.08, -0.07, 0.07, -0.08, 0.06, -0.05, 0.05, -0.06, 0.14, -0.12, 0.15, -0.18, 0.06, -0.05, 0.05, -0.06, 0.04, -0.035, 0.035, -0.04,
           0.03, -0.025, 0.025, -0.03, 0.03, -0.025, 0.06, -0.05, 0.05, -0.06, 0.15, -0.13, 0.13, -0.18, 0.15, -0.13, 0.12, -0.1, 0.1, -0.12,
           0.08, -0.07, 0.07, -0.08, 0.22, -0.2, 0.22, -0.22, 0.2, -0.22, 0.13, -0.12, 0.12, -0.13, 0.1, -0.09, 0.09, -0.1, 0.08, -0.07,
           0.07, -0.08, 0.05, -0.045, 0.045, -0.05, 0.1, -0.09, 0.09, -0.1, 0.22, -0.2, 0.22, -0.22, 0.2, -0.22, 0.15, -0.13, 0.13, -0.15,
           0.1, -0.09, 0.09, -0.1, 0.12, -0.1, 0.1, -0.12, 0.1, -0.09, 0.09, -0.1, 0.18, -0.2, 0.22, -0.22, 0.12, -0.1, 0.1, -0.12,
           0.08, -0.07, 0.07, -0.08, 0.04, -0.035, 0.035, -0.04, 0.08, -0.1, 0.05]

# tick labels
X_TICKS = [0, 0.01, 0.02, 0.03, 0.04, 0.05, 0.06, 0.07, 0.08]
X_TICK_TEXT = ["0", "0.01", "0.02", "0.03", "0.04", "0.05", "0.06", "0.07", "0.08"]

#######################
### Graph Variables ###
#######################

W, H = 912, 1000
BLUE = "#0000ff"
BOX_COLOUR = "#bcbcbc"
TICK_COLOUR = "#333333"
TEXT_COLOUR = "#1a1a1a"
FONT = "Liberation Sans, Arial, sans-serif"
FONT_SIZE = 11.5
DENSE = 2.6   # line width for the densely oscillating nodes

# node label, values, times(ms) or None, length, y half range, y tick, box (l, r, top, bottom) px, label x px, line width, shape
PANELS = [
    ("(4,1)", AMP_A1, T_A1, LEN_A, 1, 1, (51, 420, 14, 52), 20, 2.0, "spline"),
    ("(4,2)", AMP_A2, None, LEN_A, 1, 1, (51, 420, 92, 129), 20, 1.8, "spline"),
    ("(4,3)", AMP_A3, None, LEN_A, 1, 1, (51, 420, 170, 207), 20, 1.5, "linear"),
    ("(4,4)", AMP_A4, None, LEN_A, 2, 2, (51, 420, 248, 285), 20, 1.5, "linear"),
    ("(4,9)", AMP_A9, None, LEN_A, 6.5, 5, (63, 421, 364, 390), 20, DENSE, "linear"),
    ("(4,10)", AMP_A10, None, LEN_A, 0.027, 0.02, (63, 421, 442, 469), 20, DENSE, "linear"),
    ("(4,11)", AMP_A11, None, LEN_A, 0.085, 0.05, (63, 421, 522, 547), 20, DENSE, "linear"),
    ("(4,12)", AMP_A12, None, LEN_A, 0.07, 0.05, (63, 421, 599, 625), 20, DENSE, "linear"),
    ("(4,13)", AMP_A13, None, LEN_A, 0.1, 0.1, (59, 421, 662, 698), 19, DENSE, "linear"),
    ("(4,14)", AMP_A14, None, LEN_A, 0.1, 0.1, (59, 421, 739, 778), 19, DENSE, "linear"),
    ("(4,15)", AMP_A15, None, LEN_A, 0.1, 0.1, (59, 421, 820, 857), 19, DENSE, "linear"),
    ("(4,16)", AMP_A16, None, LEN_A, 0.2, 0.2, (59, 421, 898, 936), 19, DENSE, "linear"),
    ("(4,1)", AMP_B1, T_B1, LEN_B_TOP, 1, 1, (532, 903, 12, 49), 500, 2.0, "spline"),
    ("(4,2)", AMP_B2, None, LEN_B_TOP, 1, 1, (532, 903, 90, 127), 500, 1.8, "spline"),
    ("(4,3)", AMP_B3, None, LEN_B_TOP, 1, 1, (532, 903, 169, 207), 500, 1.5, "linear"),
    ("(4,4)", AMP_B4, None, LEN_B_TOP, 1, 1, (532, 903, 247, 284), 500, 1.5, "linear"),
    ("(4,9)", AMP_B9, None, LEN_B, 0.05, 0.05, (545, 903, 352, 390), 500, DENSE, "linear"),
    ("(4,10)", AMP_B10, None, LEN_B, 0.08, 0.05, (545, 903, 431, 467), 500, DENSE, "linear"),
    ("(4,11)", AMP_B11, None, LEN_B, 0.245, 0.2, (545, 903, 508, 546), 506, DENSE, "linear"),
    ("(4,12)", AMP_B12, None, LEN_B, 0.14, 0.1, (545, 903, 587, 624), 506, DENSE, "linear"),
    ("(4,13)", AMP_B13, None, LEN_B, 1, 1, (545, 903, 663, 701), 500, DENSE, "linear"),
    ("(4,14)", AMP_B14, None, LEN_B, 1, 1, (545, 903, 742, 779), 500, DENSE, "linear"),
    ("(4,15)", AMP_B15, None, LEN_B, 0.5, 0.5, (545, 903, 821, 858), 500, DENSE, "linear"),
    ("(4,16)", AMP_B16, None, LEN_B, 0.2, 0.2, (545, 903, 898, 936), 500, DENSE, "linear"),
]


def tick_text(v):
    return "0" if v == 0 else "%g" % v


def px_x(px):
    return px / W


def px_y(py):
    return 1 - py / H


####################
### Build figure ###
####################

fig = go.Figure()
layout = {}
annotations = []

axis_style = dict(showline=True, linecolor=BOX_COLOUR, linewidth=1, mirror="ticks",
                  ticks="inside", ticklen=3, tickwidth=1, tickcolor=TICK_COLOUR,
                  showgrid=False, zeroline=False, fixedrange=True, automargin=False,
                  tickfont=dict(family=FONT, size=FONT_SIZE, color=TEXT_COLOUR))

for i, (label, values, times, length, yr, yt, box, lab_x, lw, shape) in enumerate(PANELS, start=1):
    suffix = "" if i == 1 else str(i)
    if times is not None:
        x = np.array(times) / 1000.0
    else:
        x = np.linspace(0, length, len(values))

    fig.add_trace(go.Scatter(x=x, y=values, mode="lines",
                             line=dict(color=BLUE, width=lw, shape=shape, smoothing=0.8),
                             xaxis="x" + suffix, yaxis="y" + suffix,
                             hoverinfo="skip", showlegend=False))

    left, right, top, bottom = box
    yticks = [-yt, 0, yt]
    layout["xaxis" + suffix] = dict(domain=[px_x(left), px_x(right)], anchor="y" + suffix,
                                    range=[-length * 1e-4, length], tickvals=X_TICKS,
                                    ticktext=X_TICK_TEXT, **axis_style)
    layout["yaxis" + suffix] = dict(domain=[px_y(bottom), px_y(top)], anchor="x" + suffix,
                                    range=[-yr * 1.0005, yr * 1.0005], tickvals=yticks,
                                    ticktext=[tick_text(v) for v in yticks], **axis_style)

    # y label (two lines, rotated) and x label
    annotations.append(dict(text="Amplitude<br>" + label, textangle=-90,
                            x=px_x(lab_x), y=px_y((top + bottom) / 2),
                            xref="paper", yref="paper", showarrow=False,
                            xanchor="center", yanchor="middle",
                            font=dict(family=FONT, size=FONT_SIZE, color=TEXT_COLOUR)))
    annotations.append(dict(text="Time (s)", x=px_x((left + right) / 2), y=px_y(bottom + 24.5),
                            xref="paper", yref="paper", showarrow=False,
                            xanchor="center", yanchor="middle",
                            font=dict(family=FONT, size=FONT_SIZE, color=TEXT_COLOUR)))

# exponent note on (a) node (4,9)
annotations.append(dict(text="x 10<sup>-3</sup>", x=px_x(63), y=px_y(356), xref="paper", yref="paper",
                        showarrow=False, xanchor="left", yanchor="middle",
                        font=dict(family=FONT, size=FONT_SIZE, color=TEXT_COLOUR)))

# vertical ellipsis between node (4,4) and node (4,9)
for ex in (204, 686):
    annotations.append(dict(text="<b>⋮</b>", x=px_x(ex), y=px_y(324), xref="paper", yref="paper",
                            showarrow=False, xanchor="center", yanchor="middle",
                            font=dict(family="DejaVu Sans", size=20, color="black")))

# panel captions
for cx, cap in ((204, "(a)"), (687, "(b)")):
    annotations.append(dict(text="<b>" + cap + "</b>", x=px_x(cx), y=px_y(977), xref="paper", yref="paper",
                            showarrow=False, xanchor="center", yanchor="middle",
                            font=dict(family="Liberation Serif, Times New Roman, serif", size=20, color="black")))

fig.update_layout(width=W, height=H, margin=dict(l=0, r=0, t=0, b=0),
                  paper_bgcolor="white", plot_bgcolor="white",
                  showlegend=False, annotations=annotations, **layout)

fig.write_html("out.html", config={"displayModeBar": False})
